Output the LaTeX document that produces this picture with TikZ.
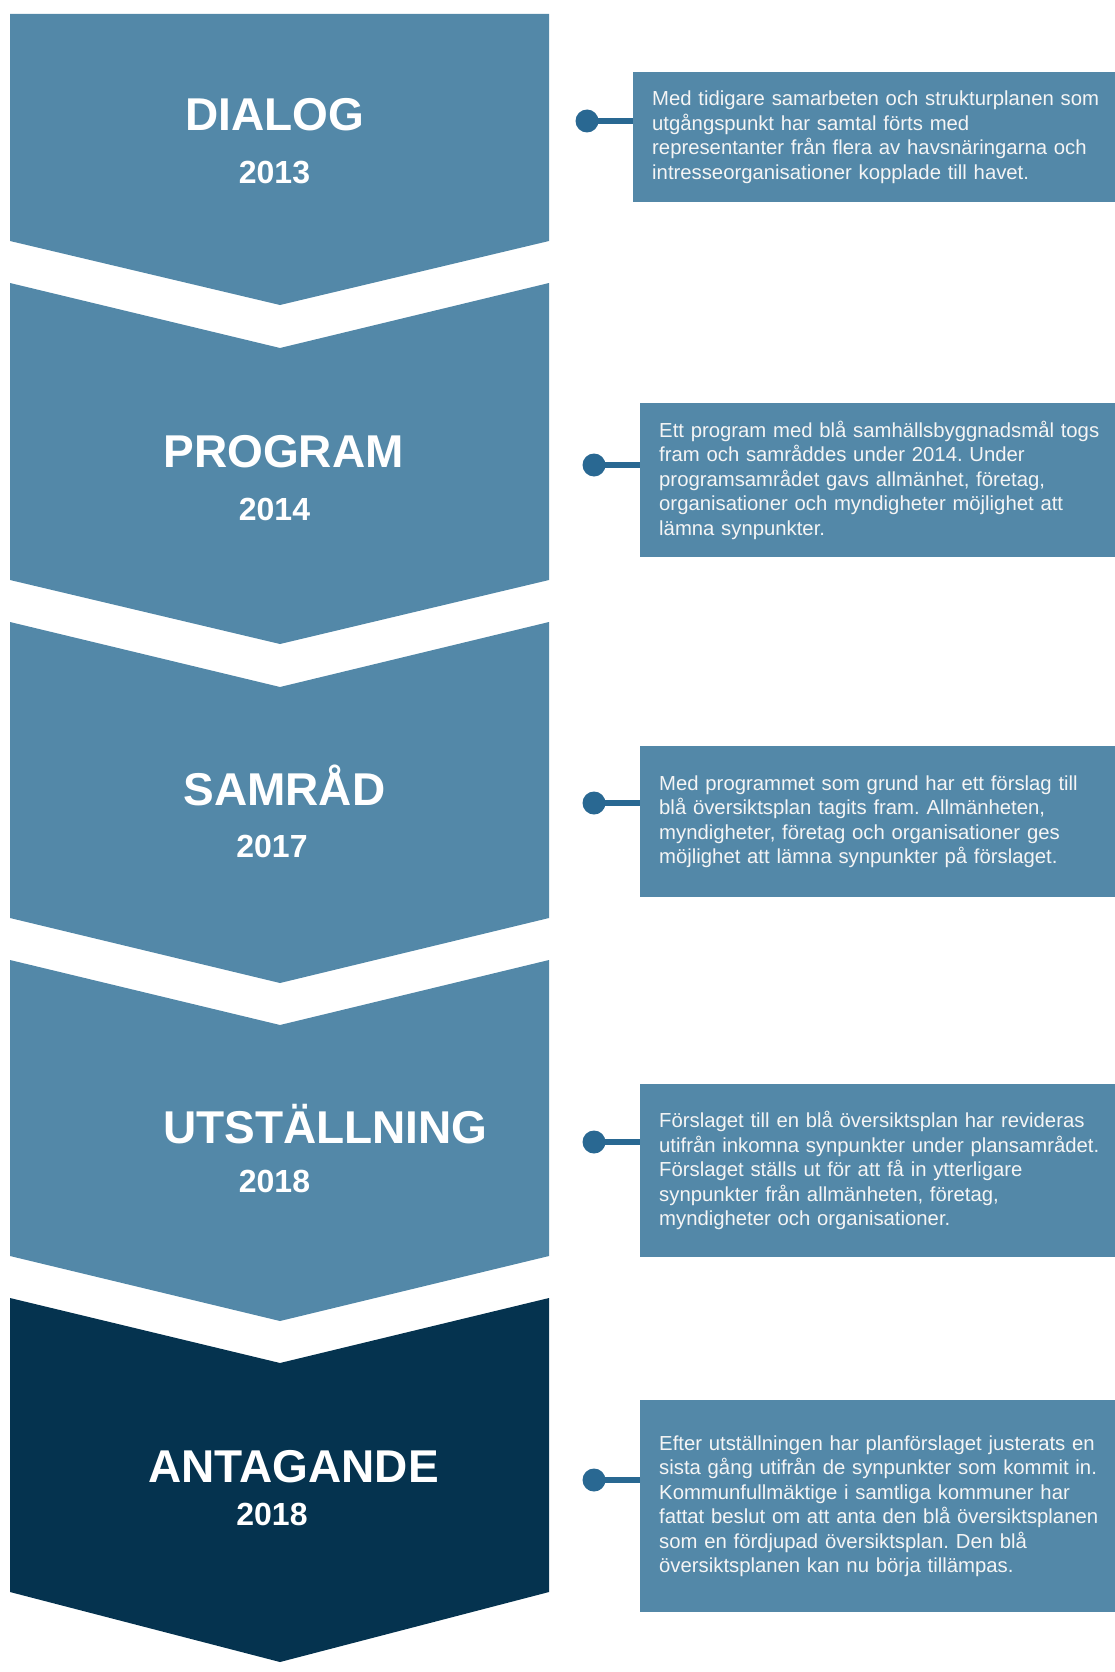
\documentclass[tikz,border=0pt]{standalone}
\usepackage{fontspec}
\setmainfont{Liberation Sans}
\frenchspacing
\definecolor{chev}{RGB}{83,136,168}
\definecolor{chevdark}{RGB}{5,51,79}
\definecolor{dotblue}{RGB}{41,104,146}
\definecolor{boxtext}{RGB}{245,245,245}
\begin{document}
\begin{tikzpicture}[x=1pt,y=-1pt,
  title/.style={text=white,font=\bfseries\fontsize{46}{46}\selectfont,anchor=base,inner sep=0pt},
  year/.style={text=white,font=\bfseries\fontsize{32}{32}\selectfont,anchor=base,inner sep=0pt},
  infobox/.style={fill=chev,text=boxtext,font=\fontsize{20.3}{24.5}\selectfont\frenchspacing,align=left,anchor=north west,inner ysep=0pt,inner xsep=19pt,text width=462pt},
  dotnode/.style={circle,fill=dotblue,minimum size=23pt,inner sep=0pt},
  conn/.style={draw=dotblue,line width=6.5pt}]
\useasboundingbox (0,0) rectangle (1115,1672);
% chevrons
\fill[chev] (10,14) -- (549,14) -- (549,241) -- (280,305) -- (10,241) -- cycle;
\fill[chev] (10,283) -- (280,348) -- (549,283) -- (549,580) -- (280,644) -- (10,580) -- cycle;
\fill[chev] (10,622) -- (280,687) -- (549,622) -- (549,918) -- (280,983) -- (10,918) -- cycle;
\fill[chev] (10,960) -- (280,1025) -- (549,960) -- (549,1256) -- (280,1321) -- (10,1256) -- cycle;
\fill[chevdark] (10,1298) -- (280,1363) -- (549,1298) -- (549,1592) -- (280,1662) -- (10,1592) -- cycle;
% labels
\node[title] (t1) at (274.5,131) {DIALOG};
\node[year] (y1) at (274.5,183) {2013};
\node[title] (t2) at (283.5,467) {PROGRAM};
\node[year] (y2) at (274.5,520) {2014};
\node[title] (t3) at (284.5,805) {SAMRÅD};
\node[year] (y3) at (272,857) {2017};
\node[title] (t4) at (325.5,1143) {UTSTÄLLNING};
\node[year] (y4) at (274.5,1192) {2018};
\node[title] (t5) at (293.5,1482) {ANTAGANDE};
\node[year] (y5) at (272,1525) {2018};
% info boxes
\node[infobox,minimum height=130pt] (b1) at (633,72)
 {Med tidigare samarbeten och strukturplanen som\\utgångspunkt har samtal förts med\\representanter från flera av havsnäringarna och\\intresseorganisationer kopplade till havet.};
\node[infobox,minimum height=154pt] (b2) at (640,403)
 {Ett program med blå samhällsbyggnadsmål togs\\fram och samråddes under 2014. Under\\programsamrådet gavs allmänhet, företag,\\organisationer och myndigheter möjlighet att\\lämna synpunkter.};
\node[infobox,minimum height=151pt] (b3) at (640,746)
 {Med programmet som grund har ett förslag till\\blå översiktsplan tagits fram. Allmänheten,\\myndigheter, företag och organisationer ges\\möjlighet att lämna synpunkter på förslaget.};
\node[infobox,minimum height=173pt] (b4) at (640,1084)
 {Förslaget till en blå översiktsplan har revideras\\utifrån inkomna synpunkter under plansamrådet.\\Förslaget ställs ut för att få in ytterligare\\synpunkter från allmänheten, företag,\\myndigheter och organisationer.};
\node[infobox,minimum height=212pt] (b5) at (640,1400)
 {Efter utställningen har planförslaget justerats en\\sista gång utifrån de synpunkter som kommit in.\\Kommunfullmäktige i samtliga kommuner har\\fattat beslut om att anta den blå översiktsplanen\\som en fördjupad översiktsplan. Den blå\\översiktsplanen kan nu börja tillämpas.};
% dots and connectors
\node[dotnode] (d1) at (587,121) {};
\node[dotnode] (d2) at (594,465) {};
\node[dotnode] (d3) at (594,803) {};
\node[dotnode] (d4) at (594,1142) {};
\node[dotnode] (d5) at (594,1480) {};
\foreach \i in {1,...,5} {\draw[conn] (d\i.center) -- (d\i -| b\i.west);}
\end{tikzpicture}
\end{document}
